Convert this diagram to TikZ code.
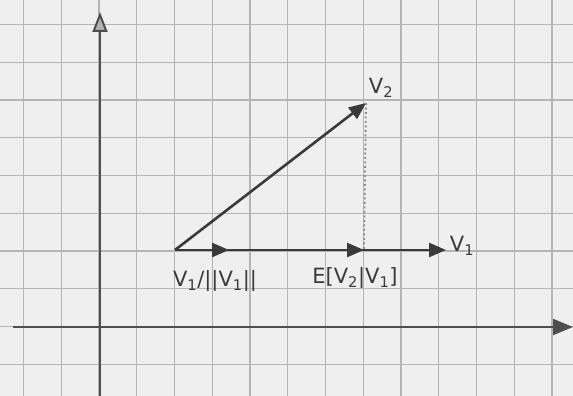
\documentclass[tikz,border=0pt]{standalone}
\usepackage{fontspec}
\setmainfont{DejaVu Sans}
\usetikzlibrary{arrows.meta}
\definecolor{paper}{HTML}{EFEFEF}
\definecolor{gridc}{HTML}{B4B4B4}
\definecolor{ink}{HTML}{3A3A3A}
\tikzset{
  gridline/.style={draw=gridc, line width=1.1pt},
  axis/.style={draw=ink!90, line width=2pt},
  vec/.style={draw=ink, line width=2.6pt, -{Triangle[length=17pt,width=14pt]}},
  lbl/.style={text=ink, font=\fontsize{21}{21}\selectfont, inner sep=0pt},
  proj/.style={draw=gray!90, line width=1.8pt, dash pattern=on 2pt off 2.5pt},
}
\begin{document}
\begin{tikzpicture}[x=1pt,y=-1pt]
\fill[paper] (0,0) rectangle (573,396);
\useasboundingbox (0,0) rectangle (573,396);
% grid
\foreach \k in {0,...,14} {\draw[gridline] ({23.5+37.75*\k},0) -- ({23.5+37.75*\k},396);}
\foreach \k in {0,...,9} {\draw[gridline] (0,{24.5+37.75*\k}) -- (573,{24.5+37.75*\k});}
% axes
\coordinate (xs) at (13,327);
\coordinate (xe) at (573,327);
\coordinate (ys) at (100,396);
\coordinate (ye) at (100,12);
\draw[axis, -{Triangle[length=20pt,width=16pt]}] (xs) -- (xe);
\draw[axis, -{Triangle[length=20pt,width=15pt,fill=gray!60]}] (ys) -- (ye);
% vectors
\coordinate (O) at (175,250);
\coordinate (U) at (229,250);
\coordinate (E) at (364,250);
\coordinate (V1) at (446,250);
\coordinate (V2) at (366,103);
\draw[vec] (O) -- (V1);
\draw[vec] (O) -- (U);
\draw[vec] (O) -- (E);
\draw[vec] (O) -- (V2);
\draw[proj] (V2) -- (E);
% labels
\node[lbl] (lv1) at (462,246) {V\textsubscript{1}};
\node[lbl] (lv2) at (381,88) {V\textsubscript{2}};
\node[lbl] (lu) at (215,281) {V\textsubscript{1}/||V\textsubscript{1}||};
\node[lbl] (le) at (355,278) {E[V\textsubscript{2}|V\textsubscript{1}]};
\end{tikzpicture}
\end{document}
